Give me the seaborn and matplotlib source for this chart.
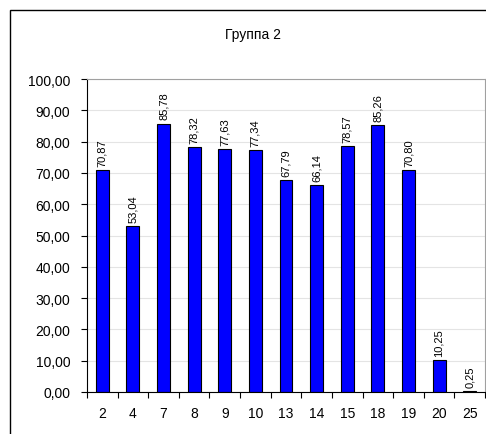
import pandas as pd
import matplotlib
matplotlib.use('Agg')
import matplotlib.pyplot as plt
import seaborn as sns
from matplotlib.patches import Rectangle
from matplotlib.ticker import FuncFormatter, FixedLocator

# Данные
groups = ['2', '4', '7', '8', '9', '10', '13', '14', '15', '18', '19', '20', '25']
values = [70.87, 53.04, 85.78, 78.32, 77.63, 77.34, 67.79, 66.14, 78.57, 85.26, 70.80, 10.25, 0.25]
title = 'Группа 2'

df = pd.DataFrame({'group': groups, 'value': values})

sns.set_style('white')
plt.rcParams['font.family'] = ['Liberation Sans', 'DejaVu Sans']
plt.rcParams['text.color'] = 'black'
plt.rcParams['xtick.color'] = 'black'
plt.rcParams['ytick.color'] = 'black'

fig = plt.figure(figsize=(4.86, 4.35), dpi=100, facecolor='white')
ax = fig.add_axes([87 / 486, 1 - 393 / 435, (485 - 87) / 486, (393 - 80) / 435])

sns.barplot(data=df, x='group', y='value', color='#0000ff', saturation=1,
            width=0.42, edgecolor='black', linewidth=0.8, ax=ax)

# Подписи значений
labels = [f'{v:.2f}'.replace('.', ',') for v in values]
ax.bar_label(ax.containers[0], labels=labels, rotation=90, padding=3, fontsize=8)

# Оси
ax.set_ylim(0, 100)
ax.set_xlim(-0.5, len(groups) - 0.5)
ax.set_yticks(range(0, 101, 10))
ax.yaxis.set_major_formatter(FuncFormatter(lambda v, p: f'{v:.2f}'.replace('.', ',')))
ax.tick_params(axis='y', direction='out', length=4, width=0.8, color='black', labelsize=10, left=True, pad=8)
ax.tick_params(axis='x', which='major', length=0, labelsize=10, pad=10)
ax.xaxis.set_minor_locator(FixedLocator([i - 0.5 for i in range(len(groups) + 1)]))
ax.tick_params(axis='x', which='minor', direction='out', length=4, width=0.8, color='black', bottom=True)
ax.set_xlabel('')
ax.set_ylabel('')

ax.grid(axis='y', color='#e4e4e4', linewidth=0.8)
ax.set_axisbelow(True)
ax.spines['left'].set_color('black')
ax.spines['bottom'].set_color('black')
ax.spines['top'].set_color('#a0a0a0')
ax.spines['right'].set_color('#a0a0a0')
for s in ax.spines.values():
    s.set_linewidth(0.8)

fig.text(253 / 486, 1 - 35 / 435, title, ha='center', va='center', fontsize=10)

# Рамка диаграммы (обрезана справа и снизу)
fig.patches.append(Rectangle((10 / 486, -0.1), 1.2, 1 - 11 / 435 + 0.1,
                             transform=fig.transFigure, fill=False,
                             edgecolor='black', linewidth=1.0))

fig.savefig('out.png', dpi=100, facecolor='white')
